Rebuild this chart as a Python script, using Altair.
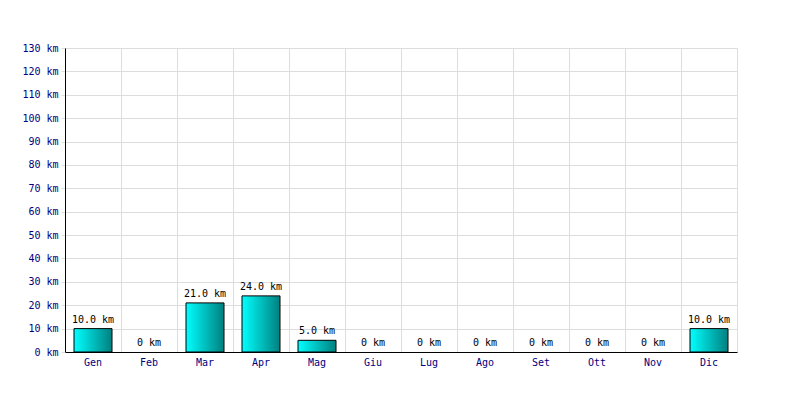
import altair as alt
import pandas as pd

months = ["Gen", "Feb", "Mar", "Apr", "Mag", "Giu", "Lug", "Ago", "Set", "Ott", "Nov", "Dic"]
km = [10.0, 0, 21.0, 24.0, 5.0, 0, 0, 0, 0, 0, 0, 10.0]
labels = ["10.0 km", "0 km", "21.0 km", "24.0 km", "5.0 km", "0 km", "0 km", "0 km", "0 km", "0 km", "0 km", "10.0 km"]
y_ticks = list(range(0, 131, 10))

df = pd.DataFrame({"month": months, "km": km, "label": labels})

FONT = "DejaVu Sans Mono"

x = alt.X("month:N", sort=months, title=None,
          scale=alt.Scale(paddingInner=0, paddingOuter=0),
          axis=alt.Axis(labelAngle=0, labelColor="#000080", labelFont=FONT, labelFontSize=10,
                        ticks=False, domainColor="#000000", grid=True, gridColor="#dddddd",
                        bandPosition=0, labelPadding=5))
y = alt.Y("km:Q", title=None,
          scale=alt.Scale(domain=[0, 130], nice=False),
          axis=alt.Axis(values=y_ticks, labelExpr="datum.value + ' km'",
                        labelColor="#000080", labelFont=FONT, labelFontSize=10,
                        tickColor="#dddddd", tickSize=4, domainColor="#000000",
                        gridColor="#dddddd", labelPadding=3))

grad = alt.Gradient(gradient="linear",
                    stops=[alt.GradientStop(color="#00ffff", offset=0),
                           alt.GradientStop(color="#008080", offset=1)],
                    x1=0, x2=1, y1=0, y2=0)

bars = alt.Chart(df).transform_filter("datum.km > 0").mark_bar(
    fill=grad, stroke="#000000", strokeWidth=1, width=38
).encode(x=x, y=y)

text = alt.Chart(df).mark_text(
    font=FONT, fontSize=10, color="#000000", dy=-9
).encode(x=x, y=y, text="label:N")

chart = alt.layer(bars, text).properties(
    width=672, height=304,
    autosize=alt.AutoSizeParams(type="none"),
    padding={"left": 57, "top": 40, "right": 40, "bottom": 40},
).configure_view(stroke="#dddddd").configure(background="white")

chart.save("out.html", embed_options={"renderer": "svg", "actions": False})
